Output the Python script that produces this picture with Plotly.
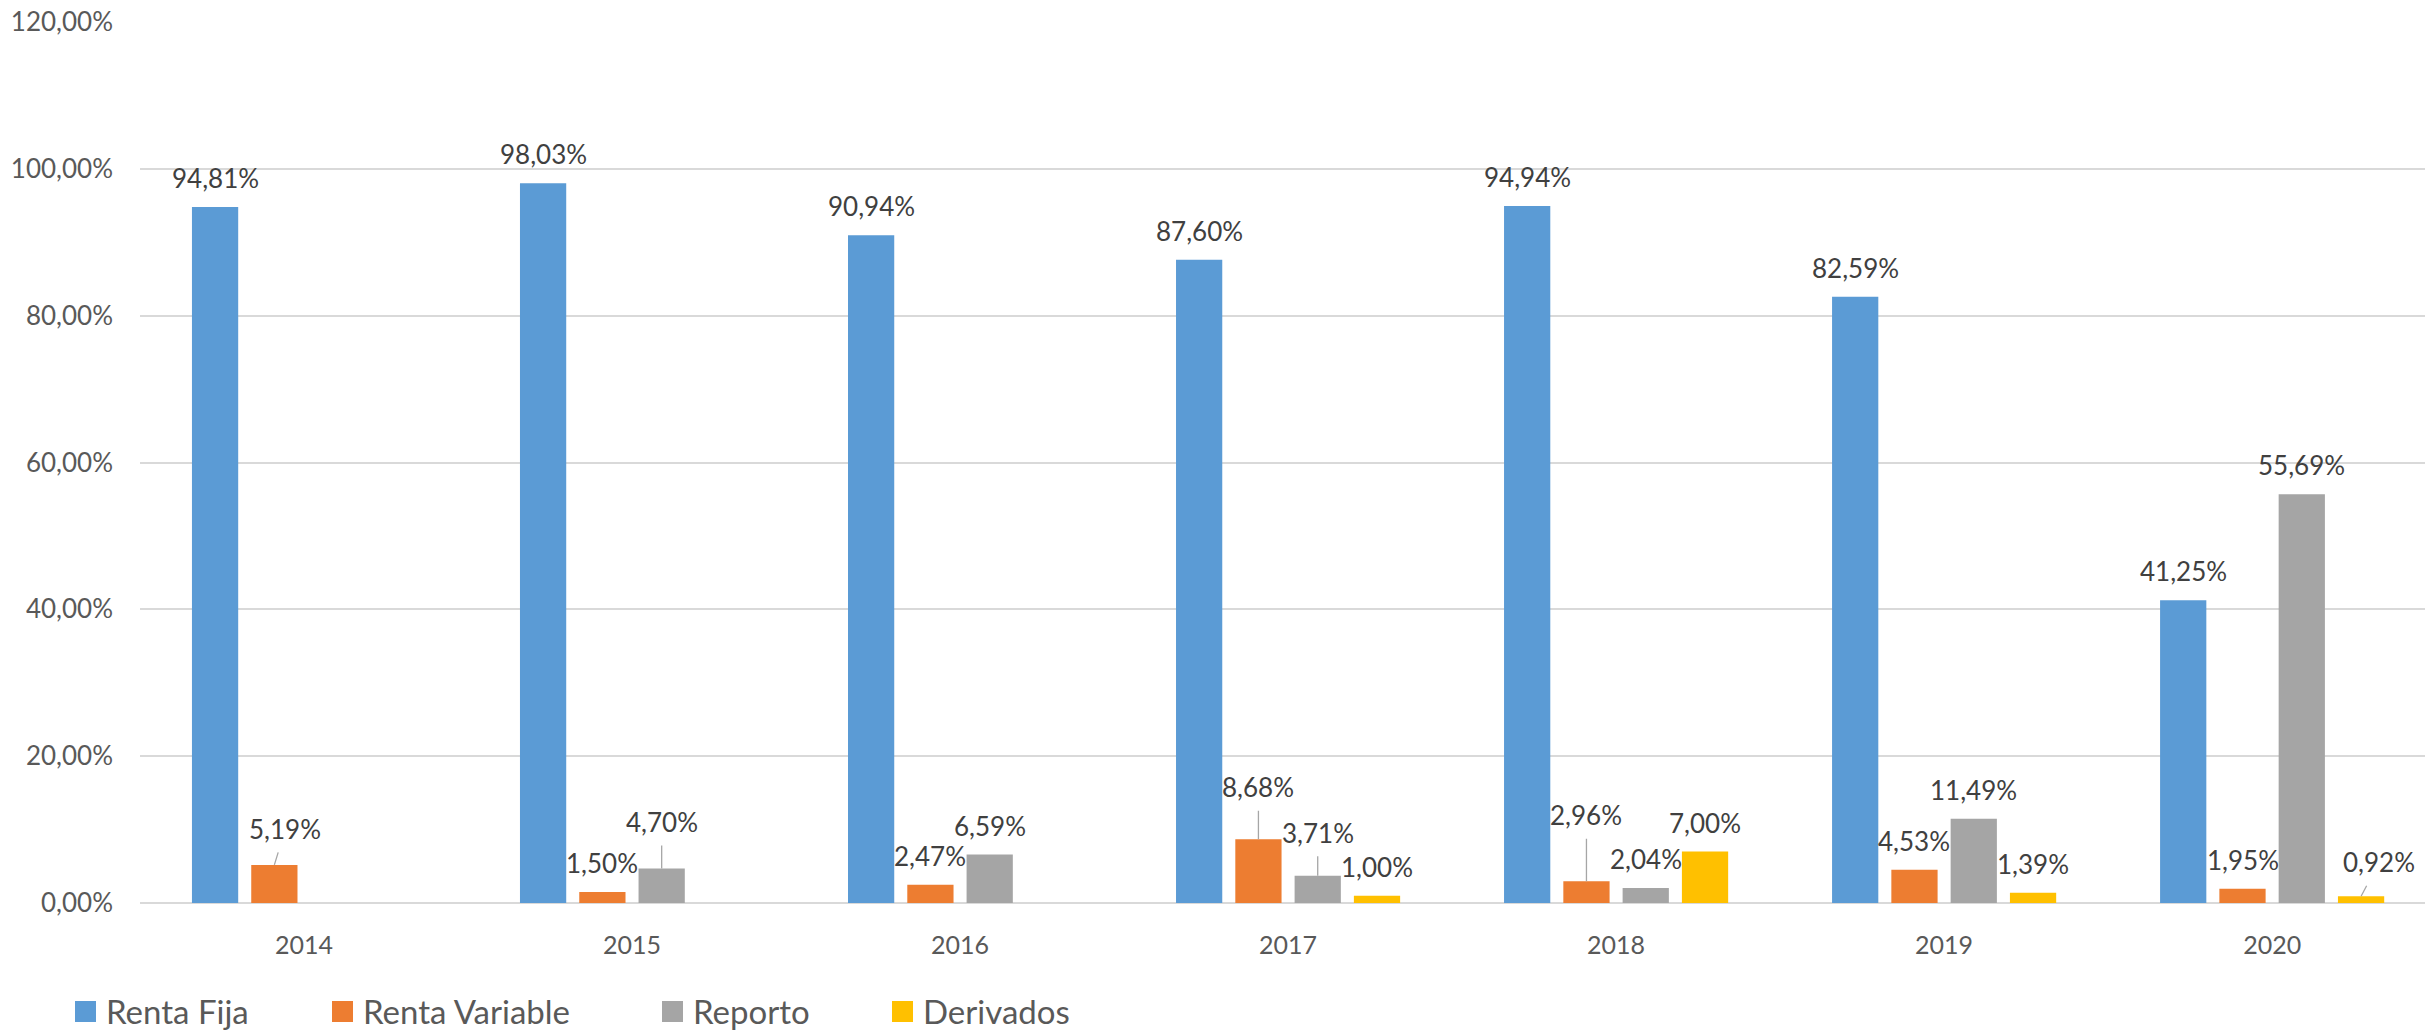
import plotly.graph_objects as go

# ---------------- data ----------------
years = ["2014", "2015", "2016", "2017", "2018", "2019", "2020"]
renta_fija = [94.81, 98.03, 90.94, 87.60, 94.94, 82.59, 41.25]
renta_variable = [5.19, 1.50, 2.47, 8.68, 2.96, 4.53, 1.95]
reporto = [None, 4.70, 6.59, 3.71, 2.04, 11.49, 55.69]
derivados = [None, None, None, 1.00, 7.00, 1.39, 0.92]
series_names = ["Renta Fija", "Renta Variable", "Reporto", "Derivados"]
y_ticks = [0, 20, 40, 60, 80, 100, 120]
y_ticktext = ["0,00%", "20,00%", "40,00%", "60,00%", "80,00%", "100,00%", "120,00%"]

# ---------------- style / layout ----------------
colors = ["#5B9BD5", "#ED7D31", "#A5A5A5", "#FFC000"]
W, H = 2425, 1031
ML, MR, MT, MB = 140, 0, 22, 128
BARGAP, GROUPGAP = 0.277, 0.22
XRANGE = [-0.5, 6.466]
FONT = "Lato"
LABEL_FS = 26
LABEL_RISE = 19        # baseline of label above bar top (px)
CENTER_FROM_BASE = 10  # text-box centre above baseline (px)
# displaced labels (series index, year index) -> (dx px, rise px)
moved = {(1, 0): (11, 26), (2, 1): (0, 36.5), (1, 3): (0, 42),
         (2, 3): (0, 33), (1, 4): (0, 56), (3, 6): (18, 24)}

all_series = [renta_fija, renta_variable, reporto, derivados]

fig = go.Figure()
for name, vals, col in zip(series_names, all_series, colors):
    fig.add_trace(go.Bar(x=years, y=vals, name=name, marker_color=col,
                         marker_line_width=0, showlegend=False))

slot = (1 - BARGAP) / len(all_series)
annotations = []
for k, vals in enumerate(all_series):
    for i, v in enumerate(vals):
        if v is None:
            continue
        dx, rise = moved.get((k, i), (0, LABEL_RISE))
        is_moved = (k, i) in moved
        annotations.append(dict(
            x=i + (k - (len(all_series) - 1) / 2) * slot, y=v,
            xref="x", yref="y",
            text=f"{v:.2f}%".replace(".", ","),
            showarrow=True, arrowhead=0, arrowwidth=1.3, standoff=0,
            arrowcolor="#A6A6A6" if is_moved else "rgba(0,0,0,0)",
            ax=dx, ay=-(rise + CENTER_FROM_BASE), borderpad=7,
            font=dict(family=FONT, size=LABEL_FS, color="#404040"),
        ))

# manual legend
pw = W - ML - MR
ph = H - MT - MB
def px2x(px):
    return (px - ML) / pw
def py2y(py):
    return (H - MB - py) / ph

legend_x = [75, 332, 662, 892]
sq = 21
sq_top = 1001
shapes = []
for name, col, lx in zip(series_names, colors, legend_x):
    shapes.append(dict(type="rect", xref="paper", yref="paper",
                       x0=px2x(lx), x1=px2x(lx + sq),
                       y0=py2y(sq_top + sq), y1=py2y(sq_top),
                       fillcolor=col, line=dict(width=0)))
    annotations.append(dict(x=px2x(lx + 30), y=py2y(sq_top + sq / 2 - 1),
                            xref="paper", yref="paper", text=name,
                            showarrow=False, xanchor="left", yanchor="middle",
                            borderpad=0,
                            font=dict(family=FONT, size=33, color="#595959")))

fig.update_layout(
    width=W, height=H,
    margin=dict(l=ML, r=MR, t=MT, b=MB, pad=0),
    paper_bgcolor="white", plot_bgcolor="white",
    barmode="group", bargap=BARGAP, bargroupgap=GROUPGAP,
    separators=",.",
    font=dict(family=FONT, color="#595959"),
    annotations=annotations, shapes=shapes,
    showlegend=False,
)
fig.update_xaxes(type="category", range=XRANGE, showgrid=False, showline=False,
                 zeroline=False, ticks="", ticklabelstandoff=25,
                 tickfont=dict(family=FONT, size=25, color="#595959"))
fig.update_yaxes(range=[0, 120], tickvals=y_ticks, ticktext=y_ticktext,
                 showgrid=True, gridcolor="#D9D9D9", gridwidth=1.5,
                 zeroline=True, zerolinecolor="#D9D9D9", zerolinewidth=2,
                 showline=False, ticks="", ticklabelstandoff=26,
                 tickfont=dict(family=FONT, size=26, color="#595959"))

fig.write_html("out.html", config={"displayModeBar": False},
               post_script="document.body.style.margin='0';document.body.style.overflow='hidden';")
